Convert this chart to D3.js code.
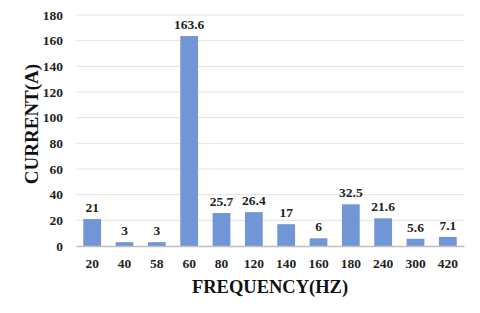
<!DOCTYPE html>
<html><head><meta charset="utf-8">
<script src="https://cdn.jsdelivr.net/npm/d3@7"></script>
<style>body{margin:0;background:#fff}svg{display:block}</style>
</head><body>
<script>
const categories = ["20","40","58","60","80","120","140","160","180","240","300","420"];
const values = [21,3,3,163.6,25.7,26.4,17,6,32.5,21.6,5.6,7.1];
const valueLabels = ["21","3","3","163.6","25.7","26.4","17","6","32.5","21.6","5.6","7.1"];
const yTicks = [0,20,40,60,80,100,120,140,160,180];
const xTitle = "FREQUENCY(HZ)";
const yTitle = "CURRENT(A)";

const W=480,H=313;
const m={l:76,r:16,t:15,b:67};
const F="Liberation Serif";
const svg=d3.select("body").append("svg").attr("width",W).attr("height",H)
  .attr("font-family",F).attr("font-weight","bold");
const x=d3.scaleBand().domain(categories).range([m.l,W-m.r]).paddingInner(0.45).paddingOuter(0.225);
const y=d3.scaleLinear().domain([0,180]).range([H-m.b,m.t]);

svg.append("g").selectAll("line").data(yTicks.filter(d=>d>0)).join("line")
  .attr("x1",m.l).attr("x2",W-m.r).attr("y1",d=>y(d)).attr("y2",d=>y(d))
  .attr("stroke","#e4e4e4").attr("stroke-width",1);

const ya=svg.append("g").attr("transform",`translate(${m.l},0)`)
  .call(d3.axisLeft(y).tickValues(yTicks).tickSize(0).tickPadding(13))
  .attr("font-family",F).attr("font-size",13.5);
ya.select(".domain").remove();
ya.selectAll("text").attr("fill","#222");

svg.append("g").selectAll("rect").data(values).join("rect")
  .attr("x",(d,i)=>x(categories[i])).attr("width",x.bandwidth())
  .attr("y",d=>y(d)).attr("height",d=>y(0)-y(d)).attr("fill","#7296d5");

const xa=svg.append("g").attr("transform",`translate(0,${y(0)})`)
  .call(d3.axisBottom(x).tickSize(0).tickPadding(12))
  .attr("font-family",F).attr("font-size",13.5);
xa.select(".domain").attr("stroke","#bfbfbf").attr("stroke-width",1.5);
xa.selectAll("text").attr("fill","#222");

svg.append("g").attr("font-size",13.5).selectAll("text").data(values).join("text")
  .attr("x",(d,i)=>x(categories[i])+x.bandwidth()/2).attr("y",d=>y(d)-7)
  .attr("text-anchor","middle").attr("fill","#222").text((d,i)=>valueLabels[i]);

svg.append("text").attr("x",270).attr("y",293).attr("text-anchor","middle")
  .attr("font-size",18.5).attr("fill","#111").text(xTitle);
svg.append("text").attr("transform","translate(38,124) rotate(-90)").attr("text-anchor","middle")
  .attr("font-size",19).attr("fill","#111").text(yTitle);
</script>
</body></html>
